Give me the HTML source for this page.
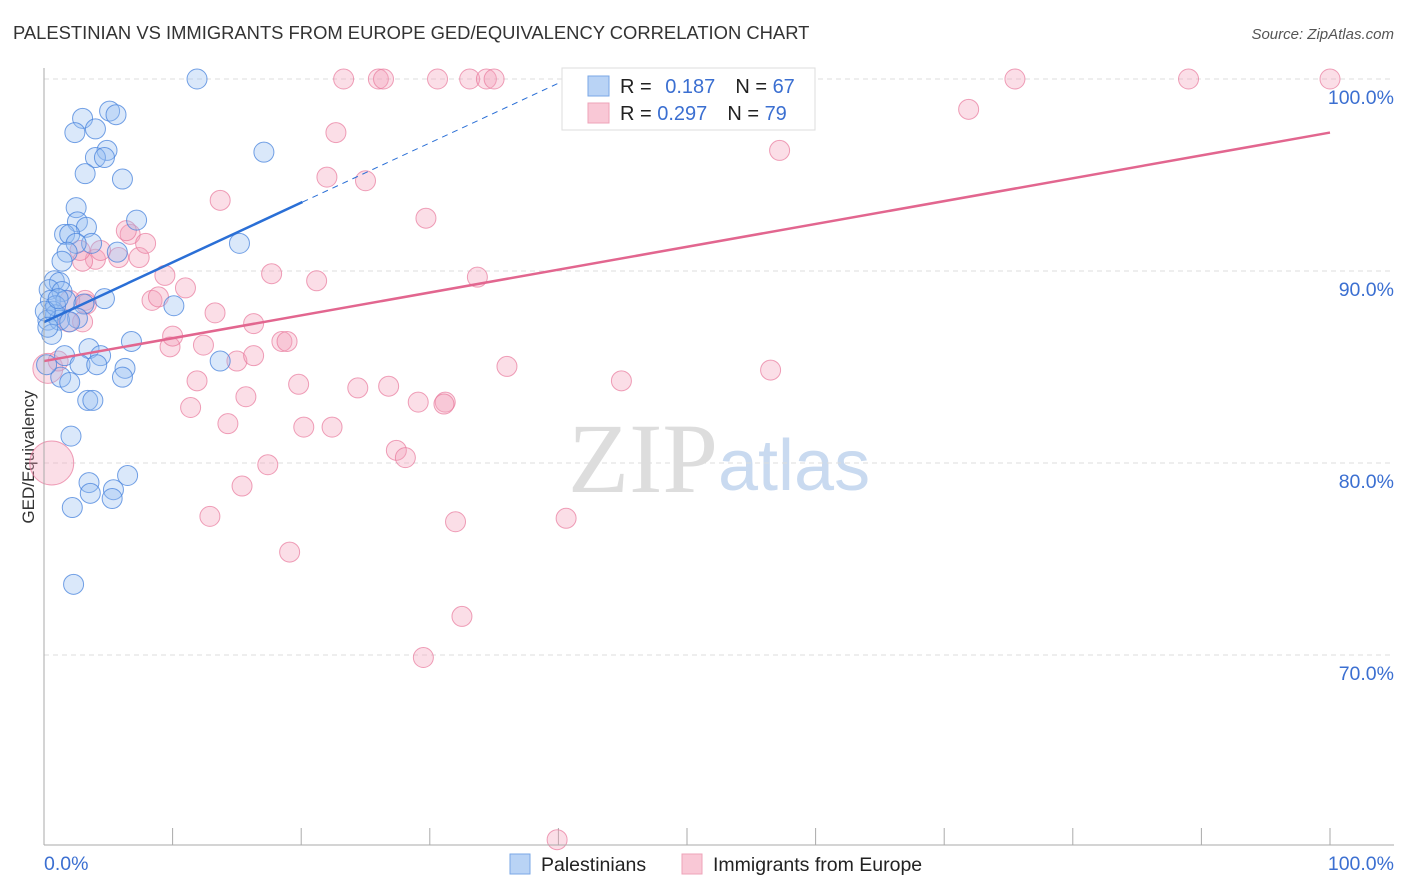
<!DOCTYPE html>
<html><head><meta charset="utf-8"><style>
body{margin:0;background:#fff;font-family:"Liberation Sans",sans-serif}
svg{display:block}
</style></head><body>
<svg id="chart" width="1406" height="892">
<text x="13" y="39" font-size="18.4" fill="#333">PALESTINIAN VS IMMIGRANTS FROM EUROPE GED/EQUIVALENCY CORRELATION CHART</text>
<text x="1394" y="39" font-size="15" fill="#555" font-style="italic" text-anchor="end">Source: ZipAtlas.com</text>
<text x="34" y="457" font-size="17" fill="#333" text-anchor="middle" transform="rotate(-90 34 457)">GED/Equivalency</text>
<text x="718" y="492" font-size="100" fill="#ddd" text-anchor="end" font-family="Liberation Serif,serif">ZIP</text>
<text x="718" y="490" font-size="72" fill="#c9daf0">atlas</text>
<g id="grid"></g><g id="ticks"></g><g id="pts"></g><g id="lines"></g>
<line x1="44" y1="68" x2="44" y2="845" stroke="#aaa"/>
<line x1="44" y1="845" x2="1394" y2="845" stroke="#aaa"/>
<text x="44" y="870" font-size="19.5" fill="#3b6fd1">0.0%</text>
<text x="1394" y="870" font-size="19.5" fill="#3b6fd1" text-anchor="end">100.0%</text>
<g>
<rect x="562" y="68" width="253" height="62" fill="#fff" stroke="#ddd"/>
<rect x="588" y="76" width="21" height="20" fill="#b9d3f5" stroke="#7aa7e6"/>
<rect x="588" y="103" width="21" height="20" fill="#f9c8d6" stroke="#eea3b8"/>
<text x="620" y="93" font-size="20" fill="#222">R = <tspan fill="#3b6fd1" dx="8">0.187</tspan><tspan fill="#222" dx="20">N = </tspan><tspan fill="#3b6fd1">67</tspan></text>
<text x="620" y="120" font-size="20" fill="#222">R = <tspan fill="#3b6fd1">0.297</tspan><tspan fill="#222" dx="20">N = </tspan><tspan fill="#3b6fd1">79</tspan></text>
</g>
<g>
<rect x="510" y="854" width="20" height="20" fill="#b9d3f5" stroke="#7aa7e6"/>
<text x="541" y="871" font-size="19.5" fill="#222">Palestinians</text>
<rect x="682" y="854" width="20" height="20" fill="#f9c8d6" stroke="#eea3b8"/>
<text x="713" y="871" font-size="19.5" fill="#222">Immigrants from Europe</text>
</g>
</svg>
<script>
const yTicks=[100,90,80,70];
const yTickLabels=["100.0%","90.0%","80.0%","70.0%"];
const xTicks=[0,10,20,30,40,50,60,70,80,90,100];
const blueX=[11.9,3.0,5.1,5.6,2.4,4.0,4.9,4.0,4.7,3.2,6.1,17.1,2.5,7.2,2.6,3.3,1.6,2.0,3.7,2.5,15.2,1.8,5.7,1.4,0.8,1.2,0.4,1.4,4.7,0.5,1.7,3.1,10.1,0.7,0.9,2.6,0.3,1.2,2.0,0.6,3.5,6.8,4.4,1.6,2.8,4.1,13.7,6.3,6.1,1.3,2.0,3.4,3.8,2.1,3.5,6.5,5.4,5.3,3.6,2.2,2.3,0.9,0.1,0.3,1.1,0.2];
const blueY=[100,97.95,98.33,98.14,97.21,97.4,96.28,95.91,95.91,95.07,94.79,96.19,93.3,92.65,92.56,92.28,91.91,91.91,91.44,91.44,91.44,90.98,90.98,90.51,89.49,89.4,89.03,88.93,88.56,88.47,88.47,88.28,88.19,87.91,87.72,87.54,87.44,87.44,87.35,86.7,85.96,86.33,85.59,85.59,85.12,85.12,85.31,84.93,84.47,84.47,84.19,83.26,83.26,81.4,78.98,79.35,78.61,78.15,78.42,77.68,73.68,88.19,87.91,87.07,88.56,85.12];
const pinkX=[0.6,0.3,1.1,3.2,2.0,3.3,1.9,3.0,4.0,3.0,4.4,2.8,5.8,7.4,6.7,6.4,7.9,9.4,8.4,8.9,11.0,13.7,9.8,10.0,11.9,11.4,12.4,13.3,15.0,14.3,16.3,16.3,15.7,15.4,12.9,17.7,17.4,18.5,18.9,19.1,19.8,20.2,22.4,21.2,22.0,22.7,25.0,23.3,26.0,26.4,30.6,33.1,34.4,35.0,24.4,26.8,29.1,27.4,28.1,29.7,29.5,31.2,31.1,32.0,32.5,33.7,36.0,39.9,40.6,44.9,47.9,56.5,57.2,71.9,75.5,89.0,100];
const pinkY=[80.0,84.93,85.31,88.47,88.47,88.28,87.35,87.35,90.61,90.51,91.07,91.07,90.7,90.7,91.91,92.1,91.44,89.77,88.47,88.65,89.12,93.68,86.05,86.61,84.28,82.89,86.14,87.82,85.31,82.05,87.26,85.59,83.45,78.8,77.22,89.86,79.91,86.33,86.33,75.36,84.1,81.87,81.87,89.49,94.89,97.21,94.7,100,100,100,100,100,100,100,83.91,84.0,83.17,80.66,80.28,92.75,69.87,83.17,83.07,76.94,72.01,89.68,85.03,60.38,77.12,84.28,100,84.84,96.28,98.42,100,100,100];
const pinkR=[22,15];
const blueTrend=[87.34,0.311];
const pinkTrend=[85.31,0.119];
const NS="http://www.w3.org/2000/svg";
const sx=v=>44+v*12.86, sy=v=>79+(100-v)*19.2;
function mk(t,a,p){const e=document.createElementNS(NS,t);for(const k in a)e.setAttribute(k,a[k]);p.appendChild(e);return e;}
const grid=document.getElementById('grid');
yTicks.forEach((t,i)=>{
 const l=mk('line',{x1:44,x2:1394,y1:sy(t),y2:sy(t),stroke:'#ddd','stroke-dasharray':'5,4'},grid);
 
 
 const tx=mk('text',{x:1394,y:sy(t)+25,'font-size':19.5,fill:'#3b6fd1','text-anchor':'end'},grid);
 tx.textContent=yTickLabels[i];
 
 
});
const tk=document.getElementById('ticks');
xTicks.forEach(t=>{
 const l=mk('line',{x1:sx(t),x2:sx(t),y1:828,y2:845,stroke:'#aaa'},tk);
 
 
});
const pts=document.getElementById('pts');
pinkX.forEach((x,i)=>{
 const c=mk('circle',{cx:sx(x),cy:sy(pinkY[i]),r:pinkR[i]||10,fill:'rgba(244,160,185,0.35)',stroke:'rgba(232,120,155,0.7)','stroke-width':1},pts);
 
 
});
blueX.forEach((x,i)=>{
 const c=mk('circle',{cx:sx(x),cy:sy(blueY[i]),r:10,fill:'rgba(150,190,240,0.35)',stroke:'rgba(70,130,220,0.75)','stroke-width':1},pts);
 
 
});
const ln=document.getElementById('lines');
const f=(tr,x)=>tr[0]+tr[1]*x;
let a=mk('line',{x1:sx(0),y1:sy(f(blueTrend,0)),x2:sx(20.1),y2:sy(f(blueTrend,20.1)),stroke:'#2a6fd6','stroke-width':2.5},ln);


let b=mk('line',{x1:sx(20.1),y1:sy(f(blueTrend,20.1)),x2:sx(40.5),y2:sy(f(blueTrend,40.5)),stroke:'#2a6fd6','stroke-width':1,'stroke-dasharray':'6,5'},ln);


let c=mk('line',{x1:sx(0),y1:sy(f(pinkTrend,0)),x2:sx(100),y2:sy(f(pinkTrend,100)),stroke:'#e2668f','stroke-width':2.5},ln);


</script>
</body></html>
